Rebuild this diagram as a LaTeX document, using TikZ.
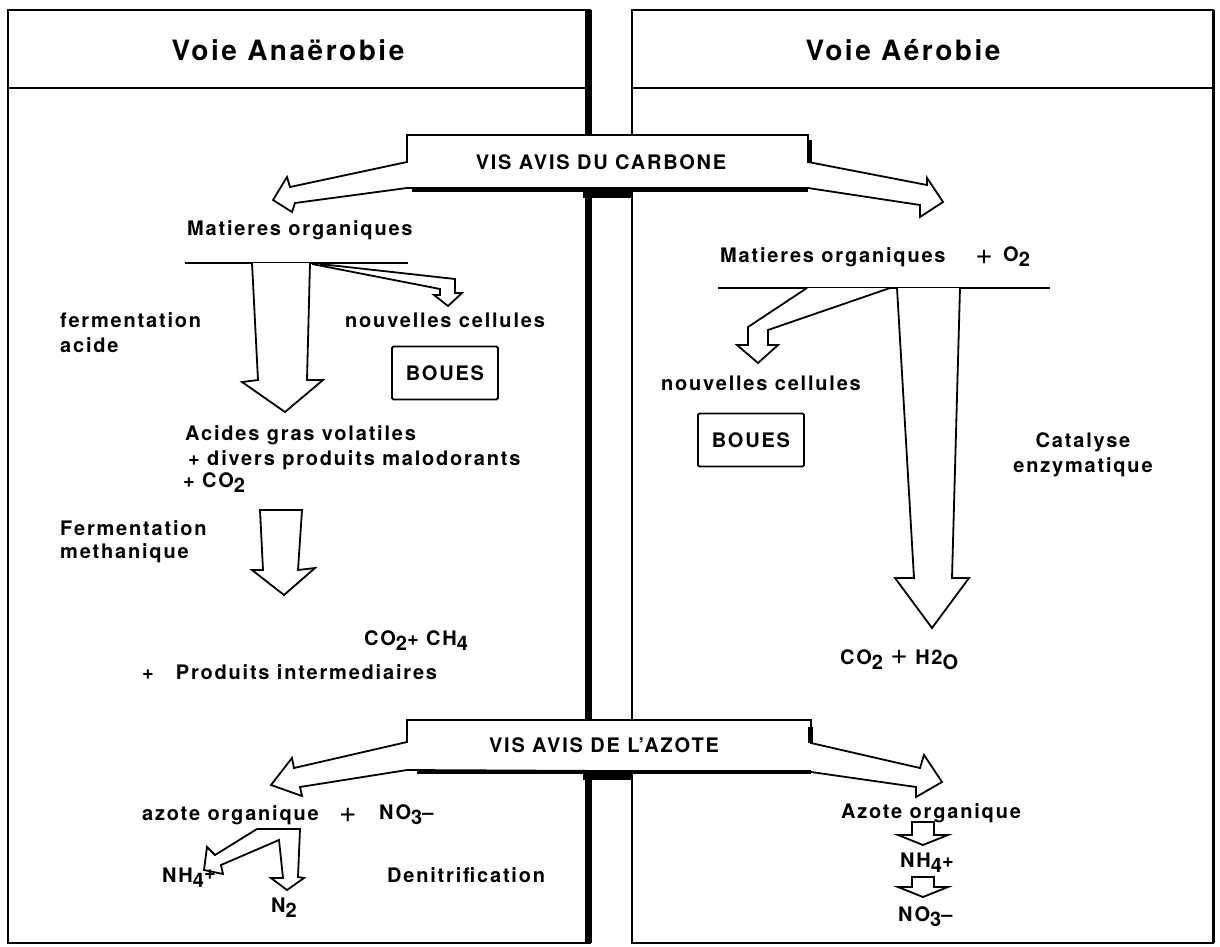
\documentclass[tikz,border=0pt]{standalone}
\usepackage{fontspec}
\setmainfont{TeX Gyre Heros}[LetterSpace=9]
\newcommand{\lowr}[1]{\raisebox{-5pt}{#1}}
\newcommand{\bplus}{{\fontsize{30}{30}\selectfont\mdseries +}}
\begin{document}
\begin{tikzpicture}[x=1pt,y=-1pt,
  txt/.style={font=\fontsize{20}{24}\selectfont\bfseries, inner sep=0pt},
  head/.style={font=\fontsize{28}{32}\selectfont\bfseries, inner sep=0pt},
  panel/.style={draw, line width=1.8pt},
  banner/.style={draw, fill=white, line width=1.8pt, line join=miter},
  barrow/.style={draw, fill=white, line width=1.8pt, line join=miter},
  boxed/.style={txt, draw, line width=1.8pt, rounded corners=1.5pt,
    minimum width=106pt, minimum height=53pt}]
\useasboundingbox (0,0) rectangle (1220,947);
% the two columns
\draw[panel] (8,10) rectangle (590,943); \draw[panel] (8,88) -- (590,88);
\draw[line width=7pt] (588,10) -- (588,943);
\draw[panel] (632,10) rectangle (1213,943); \draw[panel] (632,88) -- (1213,88);
\draw[line width=3pt] (1213,10) -- (1213,943);
\node (lhead) at (288,50) [head] {Voie Anaërobie};
\node (rhead) at (903,50) [head] {Voie Aérobie};
% carbone
\draw[banner] (407,135) -- (808,135) -- (808,162) -- (927,185) -- (927,178)
  -- (943,202) -- (920,217) -- (920,205) -- (808,188) -- (407,188) -- (295,203)
  -- (292,212) -- (273,200) -- (287,177) -- (290,187) -- (407,162) -- cycle;
\draw[line width=4pt] (412,190) -- (808,190);
\fill (583,188) rectangle (633,198); \fill (807,140) rectangle (812,162);
\node (carb) at (601,162) [txt] {VIS AVIS DU CARBONE};
% voie anaerobie
\node (lmat) at (187,230) [txt,anchor=west] {Matieres organiques};
\draw[line width=1.8pt] (185,263) -- (408,263);
\draw[barrow] (252,263) -- (258,380) -- (242,382) -- (285,412) -- (323,380)
  -- (307,380) -- (310,263);
\draw[barrow] (312,264) -- (440,289) -- (440,295) -- (434,295) -- (448,306)
  -- (462,293) -- (455,293) -- (455,279) -- (320,264);
\node (lferm) at (60,320) [txt,anchor=west] {fermentation};
\node (lacid) at (60,345) [txt,anchor=west] {acide};
\node (lnouv) at (345,320) [txt,anchor=west] {nouvelles cellules};
\node (lboues) at (445,373) [boxed] {BOUES};
\node (lagv) at (185,435) [txt,anchor=west] {Acides gras volatiles};
\node (ldiv) at (188,460) [txt,anchor=west] {+ divers produits malodorants};
\node (lco2) at (183,483) [txt,anchor=west] {+ CO\lowr{2}};
\draw[barrow] (260,510) -- (263,570) -- (252,570) -- (284,595) -- (315,568)
  -- (298,570) -- (302,510) -- cycle;
\node (lfm) at (60,528) [txt,anchor=west] {Fermentation};
\node (lmeth) at (60,553) [txt,anchor=west] {methanique};
\node (lch4) at (364,641) [txt,anchor=west] {CO\lowr{2}+ CH\lowr{4}};
\node (lprod) at (142,672) [txt,anchor=west] {+\hspace{22pt}Produits intermediaires};
% voie aerobie
\node (rmat) at (720,257) [txt,anchor=west] {Matieres organiques};
\node (rplus) at (984,257) [txt] {\bplus};
\node (ro2) at (1003,257) [txt,anchor=west] {O\lowr{2}};
\draw[line width=1.8pt] (718,288) -- (1050,288);
\draw[barrow] (897,288) -- (914,578) -- (895,578) -- (932,628) -- (969,578)
  -- (952,578) -- (960,288);
\draw[barrow] (807,288) -- (748,327) -- (748,345) -- (737,345) -- (758,363)
  -- (778,345) -- (768,345) -- (768,330) -- (890,288);
\node (rnouv) at (761,383) [txt] {nouvelles cellules};
\node (rboues) at (751,440) [boxed] {BOUES};
\node (rcat) at (1083,442) [txt] {Catalyse};
\node (renz) at (1083,467) [txt] {enzymatique};
\node (rco2) at (840,660) [txt,anchor=west] {CO\lowr{2} \bplus\ H2\lowr{O}};
% azote
\draw[banner] (407,720) -- (811,720) -- (811,743) -- (920,768) -- (924,755)
  -- (942,782) -- (916,797) -- (916,787) -- (811,772) -- (407,770) -- (300,787)
  -- (302,796) -- (271,785) -- (292,758) -- (294,768) -- (407,742) -- cycle;
\draw[line width=4pt] (417,772) -- (811,772);
\fill (583,770) rectangle (632,780); \fill (808,727) rectangle (813,743);
\node (azo) at (604,745) [txt] {VIS AVIS DE L'AZOTE};
\node (lazo) at (142,815) [txt,anchor=west] {azote organique};
\node (lplus) at (348,815) [txt] {\bplus};
\node (lno3) at (379,815) [txt,anchor=west] {NO\lowr{3}\textendash};
\draw[barrow] (257,829) -- (215,855) -- (207,847) -- (204,870) -- (223,874)
  -- (221,865) -- (279,840) -- (283,878) -- (271,878) -- (287,890) -- (304,878)
  -- (298,877) -- (300,829) -- cycle;
\node (lnh4) at (162,878) [txt,anchor=west] {NH\lowr{4}\raisebox{3pt}{+}};
\node (ln2) at (271,908) [txt,anchor=west] {N\lowr{2}};
\node (lden) at (387,875) [txt,anchor=west] {Denitrification};
\node (razo) at (931,813) [txt] {Azote organique};
\draw[barrow] (912,822) -- (912,835) -- (898,835) -- (923,845) -- (948,835)
  -- (934,835) -- (934,822) -- cycle;
\node (rnh4) at (900,863) [txt,anchor=west] {NH\lowr{4}+};
\draw[barrow] (912,877) -- (912,887) -- (898,887) -- (923,897) -- (948,887)
  -- (934,887) -- (934,877) -- cycle;
\node (rno3) at (898,917) [txt,anchor=west] {NO\lowr{3}\textendash};
\end{tikzpicture}
\end{document}
